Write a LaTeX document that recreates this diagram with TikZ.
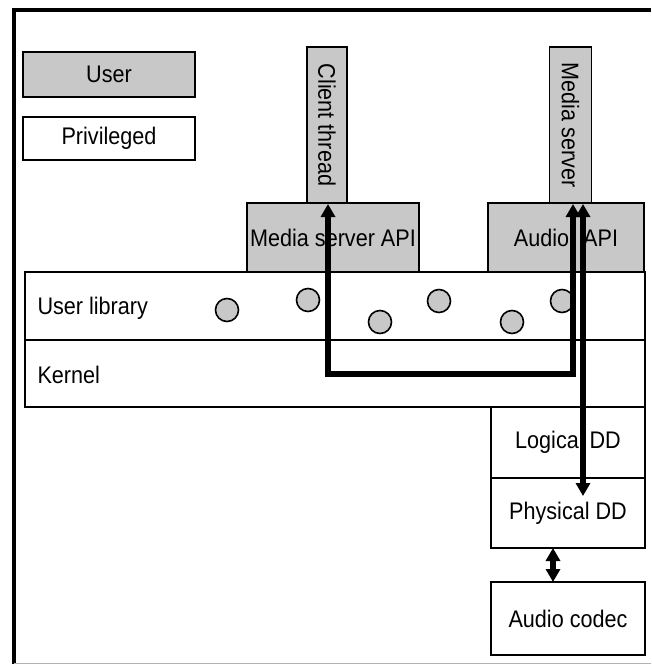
\documentclass[tikz,border=0pt]{standalone}
\usepackage{fontspec}
\setmainfont{Liberation Sans}[FakeStretch=0.9]
\usetikzlibrary{arrows.meta}
\definecolor{usergray}{RGB}{200,200,200}
\tikzset{
  lbl/.style={font=\fontsize{24}{28}\selectfont},
  box/.style={draw=black, line width=1.8pt, inner sep=0pt, outer sep=0pt, lbl},
  userbox/.style={box, fill=usergray},
  privbox/.style={box, fill=white},
  dot/.style={circle, draw=black, line width=1.6pt, fill=usergray, minimum size=23pt, inner sep=0pt},
  flow/.style={line width=5.5pt, {Triangle[width=14pt,length=13pt]}-{Triangle[width=14pt,length=13pt]}},
}
\begin{document}
\begin{tikzpicture}[x=1pt,y=-1pt]
\useasboundingbox (0,0) rectangle (651,664);
% frame
\draw[line width=3.5pt] (14,664) -- (14,10) -- (651,10);
\draw[gray!60, line width=1pt] (14,663) -- (651,663);
% legend
\node[userbox, minimum width=172pt, minimum height=45pt] (leguser) at (109,74.5) {User};
\node[privbox, minimum width=172pt, minimum height=43pt] (legpriv) at (109,138.5) {Privileged};
% vertical thread bars
\node[userbox, minimum width=40pt, minimum height=156pt] (ct) at (327,125) {};
\node[rotate=-90, lbl] (cttext) at (ct.center) {Client thread};
\node[userbox, minimum width=42pt, minimum height=156pt] (ms) at (570.5,125) {};
\node[rotate=-90, lbl] (mstext) at (ms.center) {Media server};
% API boxes
\node[userbox, minimum width=172pt, minimum height=69pt] (msapi) at (333,237.5) {Media server API};
\node[userbox, minimum width=156pt, minimum height=69pt] (audapi) at (566,237.5) {Audio\hspace{14pt}API};
% bands
\node[privbox, minimum width=620pt, minimum height=68pt] (ulib) at (335,306) {};
\node[privbox, minimum width=620pt, minimum height=67pt] (kern) at (335,373.5) {};
\node[anchor=west, lbl] (ulibtext) at (34,308) {User library};
\node[anchor=west, lbl] (kerntext) at (34,375) {Kernel};
% driver stack
\node[privbox, minimum width=154pt, minimum height=71pt] (logdd) at (568,442.5) {Logical DD};
\node[privbox, minimum width=154pt, minimum height=70pt] (phydd) at (568,513) {Physical DD};
\node[privbox, minimum width=154pt, minimum height=73pt] (codec) at (568,618.5) {Audio codec};
% library circles
\node[dot] (c1) at (227,310) {};
\node[dot] (c2) at (308,300) {};
\node[dot] (c3) at (380,322) {};
\node[dot] (c4) at (439,301) {};
\node[dot] (c5) at (512,322) {};
\node[dot] (c6) at (562,301) {};
% connector points
\coordinate (ctend) at (328,204);
\coordinate (bl) at (328,374);
\coordinate (br) at (573,374);
\coordinate (msend) at (573,204);
\coordinate (ms2top) at (583,204);
\coordinate (ms2bot) at (583,496);
% arrows
\draw[flow] (ctend) -- (bl) -- (br) -- (msend);
\draw[flow] (ms2top) -- (ms2bot);
\draw[flow] (phydd.south -| 553,0) -- (codec.north -| 553,0);
\end{tikzpicture}
\end{document}
